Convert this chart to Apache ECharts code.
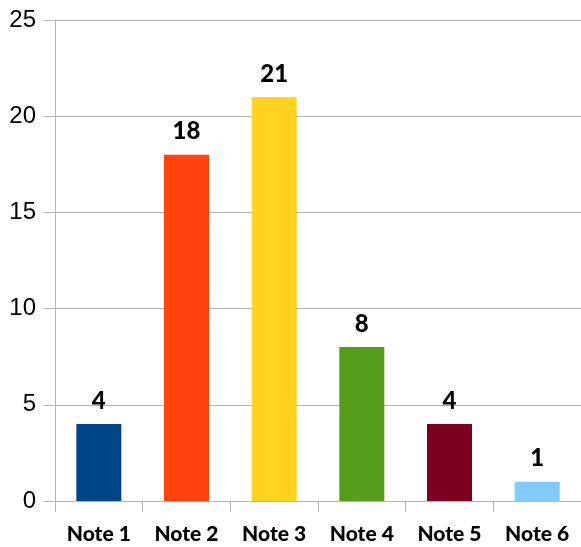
<!DOCTYPE html>
<html>
<head>
<meta charset="utf-8">
<script src="https://cdn.jsdelivr.net/npm/echarts@6/dist/echarts.min.js"></script>
<style>
  html, body { margin: 0; padding: 0; background: #fff; }
  #chart { width: 581px; height: 547px; }
</style>
</head>
<body>
<div id="chart"></div>
<script>
// Count per note
const categories = ['Note 1', 'Note 2', 'Note 3', 'Note 4', 'Note 5', 'Note 6'];
const counts = [4, 18, 21, 8, 4, 1];
const barColors = ['#004586', '#ff420e', '#ffd320', '#579d1c', '#7e0021', '#83caff'];

const chart = echarts.init(document.getElementById('chart'));
const gray = '#b3b3b3';

chart.setOption({
  animation: false,
  grid: { left: 55, right: -2, top: 20, bottom: 46, containLabel: false },
  xAxis: {
    type: 'category',
    data: categories,
    axisLine: { lineStyle: { color: gray, width: 1 } },
    axisTick: { show: true, length: 11, lineStyle: { color: gray } },
    axisLabel: {
      margin: 23,
      color: '#000',
      fontFamily: 'Lato',
      fontWeight: 900,
      fontSize: 21
    }
  },
  yAxis: {
    type: 'value',
    min: 0,
    max: 25,
    interval: 5,
    axisLine: { show: true, lineStyle: { color: gray, width: 1 } },
    axisTick: { show: true, length: 11, lineStyle: { color: gray } },
    splitLine: { lineStyle: { color: gray, width: 1 } },
    axisLabel: {
      margin: 19,
      color: '#000',
      fontFamily: 'Liberation Sans',
      fontSize: 24
    }
  },
  series: [{
    type: 'bar',
    barWidth: 45,
    data: counts.map((v, i) => ({ value: v, itemStyle: { color: barColors[i] } })),
    label: {
      show: true,
      position: 'top',
      distance: 11,
      color: '#000',
      fontFamily: 'Lato',
      fontWeight: 900,
      fontSize: 24
    }
  }]
});
</script>
</body>
</html>
